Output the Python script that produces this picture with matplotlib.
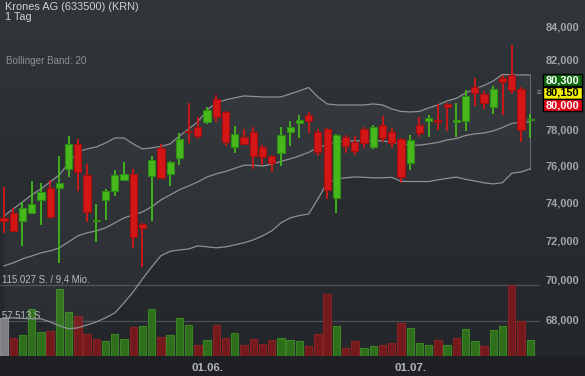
import numpy as np
import matplotlib
matplotlib.use("Agg")
import matplotlib.pyplot as plt
from matplotlib.patches import Rectangle
from matplotlib.ticker import FixedLocator, NullLocator

plt.rcParams['font.family'] = ['Liberation Sans', 'DejaVu Sans']

# ---------------- data ----------------
opens = [73.18, 73.41, 73.01, 73.41, 74.10, 74.75, 74.75, 75.80, 77.16, 75.47,
         73.01, 74.10, 74.62, 75.20, 75.51, 72.83, 75.43, 76.97, 75.54, 76.42,
         77.92, 78.12, 78.43, 79.73, 78.97, 77.03, 77.57, 77.83, 76.99, 76.51,
         76.66, 77.83, 78.34, 78.80, 77.87, 78.00, 74.21, 77.55, 77.31, 78.00,
         76.99, 78.25, 77.83, 77.44, 76.14, 78.25, 78.49, 78.49, 79.44, 78.43,
         78.49, 80.44, 80.00, 79.25, 80.93, 81.12, 80.31, 78.53]
highs = [74.84, 73.68, 74.00, 75.14, 75.02, 75.20, 76.51, 77.63, 77.46, 76.06,
         73.91, 74.71, 75.74, 76.17, 75.80, 72.88, 76.51, 77.16, 76.24, 77.78,
         79.48, 78.68, 79.25, 79.96, 79.04, 78.19, 78.02, 78.12, 77.12, 76.57,
         78.12, 78.47, 78.81, 78.97, 78.00, 78.06, 77.74, 77.68, 77.63, 78.15,
         78.25, 78.77, 78.06, 77.50, 77.68, 78.68, 78.81, 79.42, 79.48, 79.48,
         80.25, 80.96, 80.19, 80.48, 81.12, 82.90, 80.44, 78.85]
lows = [72.36, 72.44, 71.71, 73.36, 72.79, 73.15, 70.81, 75.38, 74.62, 72.97,
        71.92, 73.06, 74.35, 75.14, 71.61, 70.64, 73.02, 75.29, 74.89, 76.02,
        77.22, 77.44, 78.28, 78.43, 77.08, 76.70, 77.16, 75.78, 76.02, 75.65,
        75.96, 77.08, 77.50, 77.78, 76.51, 74.16, 73.41, 76.66, 76.57, 76.94,
        76.88, 77.31, 76.94, 75.05, 75.74, 77.55, 77.59, 77.96, 77.92, 77.59,
        77.91, 79.33, 79.14, 78.87, 78.81, 80.00, 77.31, 77.53]
closes = [73.01, 72.50, 73.68, 73.89, 74.53, 73.20, 75.05, 77.16, 75.65, 73.50,
          73.04, 74.62, 75.47, 75.53, 72.18, 72.65, 76.29, 75.32, 76.17, 77.46,
          77.83, 77.64, 79.10, 78.72, 77.27, 77.72, 77.20, 76.51, 76.44, 76.11,
          77.68, 78.12, 78.53, 78.47, 76.75, 74.66, 77.68, 77.07, 76.81, 77.22,
          78.15, 77.50, 77.25, 75.35, 77.40, 77.81, 78.62, 78.43, 79.29, 78.53,
          79.90, 80.06, 79.48, 80.31, 80.69, 80.25, 77.96, 78.58]
volumes = [61000, 29700, 33500, 75600, 38900, 41000, 109000, 71300, 64800, 35100,
           28000, 24300, 35100, 28000, 46500, 48600, 75600, 30200, 33500, 61000,
           50200, 17800, 25900, 50200, 28600, 36700, 17800, 27000, 19400, 25900,
           29700, 25900, 24300, 16700, 35100, 99900, 48600, 12400, 23800, 13500,
           15700, 17300, 20500, 52900, 44800, 20500, 17300, 25900, 17800, 28600,
           43700, 23800, 16200, 42100, 48600, 115027, 56700, 25900]
bb_upper = [73.27, 73.64, 74.01, 74.39, 74.71, 75.09, 75.47, 76.13, 76.74, 76.90,
            77.01, 77.23, 77.51, 77.51, 77.18, 76.90, 76.96, 77.04, 77.18, 77.62,
            78.02, 78.42, 79.10, 79.50, 79.67, 79.79, 79.90, 79.87, 79.84, 79.84,
            79.84, 80.02, 80.19, 80.39, 79.84, 79.44, 79.38, 79.38, 79.38, 79.38,
            79.44, 79.38, 79.15, 79.01, 78.98, 79.01, 79.21, 79.38, 79.61, 79.76,
            80.07, 80.31, 80.51, 80.77, 81.15, 81.12, 81.12, 81.12]
bb_middle = [70.67, 70.83, 71.03, 71.18, 71.34, 71.44, 71.60, 71.91, 72.22, 72.38,
             72.48, 72.64, 72.90, 73.16, 73.32, 73.48, 73.75, 74.12, 74.39, 74.66,
             74.87, 75.09, 75.36, 75.53, 75.66, 75.83, 76.00, 76.00, 75.96, 76.05,
             76.21, 76.35, 76.51, 76.71, 76.98, 77.15, 77.29, 77.32, 77.35, 77.35,
             77.35, 77.35, 77.26, 77.18, 77.12, 77.11, 77.18, 77.26, 77.40, 77.48,
             77.65, 77.74, 77.79, 77.91, 78.10, 78.33, 78.39, 78.42]
bb_lower = [68.07, 68.07, 68.04, 68.02, 68.02, 67.87, 67.68, 67.53, 67.58, 67.72,
            67.87, 68.07, 68.31, 68.81, 69.36, 70.01, 70.62, 71.19, 71.42, 71.49,
            71.54, 71.70, 71.65, 71.60, 71.65, 71.75, 71.86, 72.01, 72.22, 72.48,
            72.90, 73.16, 73.29, 73.37, 74.17, 75.04, 75.25, 75.31, 75.36, 75.34,
            75.31, 75.31, 75.34, 75.12, 75.11, 75.11, 75.11, 75.20, 75.28, 75.35,
            75.23, 75.14, 75.04, 74.98, 75.05, 75.56, 75.63, 75.80]
date_ticks = [22, 44]
date_labels = ["01.06.", "01.07."]
price_ticks = [68, 70, 72, 74, 76, 78, 82, 84]   # 80,000 is hidden behind the quote boxes
vol_levels = [115027, 57513]
vol_labels = ["115.027 S. / 9,4 Mio.", "57.513 S."]
quotes = ["80,300", "80,150", "80,000"]

# ---------------- figure ----------------
W, H = 585, 376
fig = plt.figure(figsize=(W / 100, H / 100), dpi=100)
fig.patch.set_facecolor('#1e2024')

def fx(px):
    return px / W

def fy(py):
    return 1 - py / H

# background gradient for plot area
bg = fig.add_axes([0, fy(356), 1, 356 / H], zorder=0)
grad = np.linspace(0, 1, 256).reshape(-1, 1)
top = np.array([0x31, 0x36, 0x3b]) / 255
bot = np.array([0x23, 0x26, 0x2a]) / 255
img = top + (bot - top) * grad[..., None]
img = np.repeat(img, 2, axis=1)
bg.imshow(img, aspect='auto', extent=[0, 1, 0, 1], origin='upper')
bg.set_axis_off()

rect = [0, fy(356), fx(540), 356 / H]
n = len(closes)
x = np.arange(n)
xlim = (-0.433, 58.06)

# volume axis (behind)
axv = fig.add_axes(rect, zorder=1)
axv.set_facecolor('none')
axv.set_xlim(*xlim)
axv.set_ylim(0, 115027 * 356 / 71)
vcols, vedges = [], []
for i in range(n):
    if i == 0:
        vcols.append('#7d7f82'); vedges.append('#8a8c8f')
    elif closes[i] >= closes[i - 1]:
        vcols.append('#2f6f1c'); vedges.append('#3b8424')
    else:
        vcols.append('#741a1c'); vedges.append('#8a2224')
axv.bar(x, volumes, width=0.8, color=vcols, edgecolor=vedges, linewidth=0.8)
axv.set_axis_off()

# price axis (front)
ax = fig.add_axes(rect, zorder=2)
ax.set_facecolor('none')
ax.set_yscale('log')
ax.set_ylim(66.22, 85.63)
ax.set_xlim(*xlim)

# Bollinger band
ax.fill_between(x, bb_lower, bb_upper, color='white', alpha=0.035, linewidth=0)
ax.plot([x[-1], x[-1]], [bb_lower[-1], bb_upper[-1]], color='#6a6e72', lw=0.7)
for s in (bb_upper, bb_middle, bb_lower):
    ax.plot(x, s, color='#8e9194', lw=0.9, solid_joinstyle='round')

# candles
for i in range(n):
    o, h, l, c = opens[i], highs[i], lows[i], closes[i]
    up = c >= o
    face = '#46b81c' if up else '#d51616'
    edge = '#2f8c12' if up else '#a01010'
    ax.vlines(x[i], l, h, color=face, lw=1.3, zorder=3)
    lo_b, hi_b = min(o, c), max(o, c)
    if hi_b - lo_b < 0.09:
        mid = (hi_b + lo_b) / 2
        lo_b, hi_b = mid - 0.045, mid + 0.045
    ax.bar(x[i], hi_b - lo_b, bottom=lo_b, width=0.78, color=face,
           edgecolor=edge, linewidth=0.8, zorder=4)

# axes styling
for sp in ax.spines.values():
    sp.set_visible(False)
ax.yaxis.tick_right()
ax.yaxis.set_major_locator(FixedLocator(price_ticks))
ax.yaxis.set_minor_locator(NullLocator())
ax.set_yticklabels([f"{v},000" for v in price_ticks])
ax.tick_params(axis='y', length=0, pad=4, labelsize=7.9, labelcolor='#a3a6a9')
for t in ax.get_yticklabels():
    t.set_fontweight('bold')
ax.set_xticks(date_ticks)
ax.set_xticklabels(date_labels)
ax.xaxis.set_minor_locator(NullLocator())
ax.tick_params(axis='x', length=0, pad=5, labelsize=8.2, labelcolor='#b4b7ba')
for t in ax.get_xticklabels():
    t.set_fontweight('bold')

# volume reference lines
for lv, lab in zip(vol_levels, vol_labels):
    axv.axhline(lv, color='#4d5156', lw=0.9, zorder=0.5)
    axv.text(0.003, lv, lab, transform=axv.get_yaxis_transform(),
             ha='left', va='bottom', fontsize=6.9, color='#b8babc', zorder=5)

# titles
fig.text(fx(5), fy(1.8), "Krones AG (633500) (KRN)", ha='left', va='top',
         fontsize=7.9, color='#cfd1d3')
fig.text(fx(5), fy(12.3), "1 Tag", ha='left', va='top', fontsize=7.9,
         color='#cfd1d3')
fig.text(fx(5.5), fy(56), "Bollinger Band: 20", ha='left', va='top',
         fontsize=7.1, color='#8d9196')

# quote boxes
boxes = [(74, '#0d6a0d', 'white'), (86.5, '#f2f000', 'black'),
         (99, '#e3001b', 'white')]
for (ytop, fc, tc), q in zip(boxes, quotes):
    r = Rectangle((fx(543), fy(ytop + 12)), fx(39), 12 / H,
                  transform=fig.transFigure, facecolor=fc, edgecolor='black',
                  linewidth=1.0, zorder=10)
    fig.patches.append(r)
    fig.text(fx(562.5), fy(ytop + 6.3), q, ha='center', va='center',
             fontsize=7.9, fontweight='bold', color=tc, zorder=11)
fig.text(fx(539), fy(93), "≡", ha='center', va='center', fontsize=5.5,
         color='#9a9da0')

fig.savefig("out.png", dpi=100, facecolor=fig.get_facecolor())
